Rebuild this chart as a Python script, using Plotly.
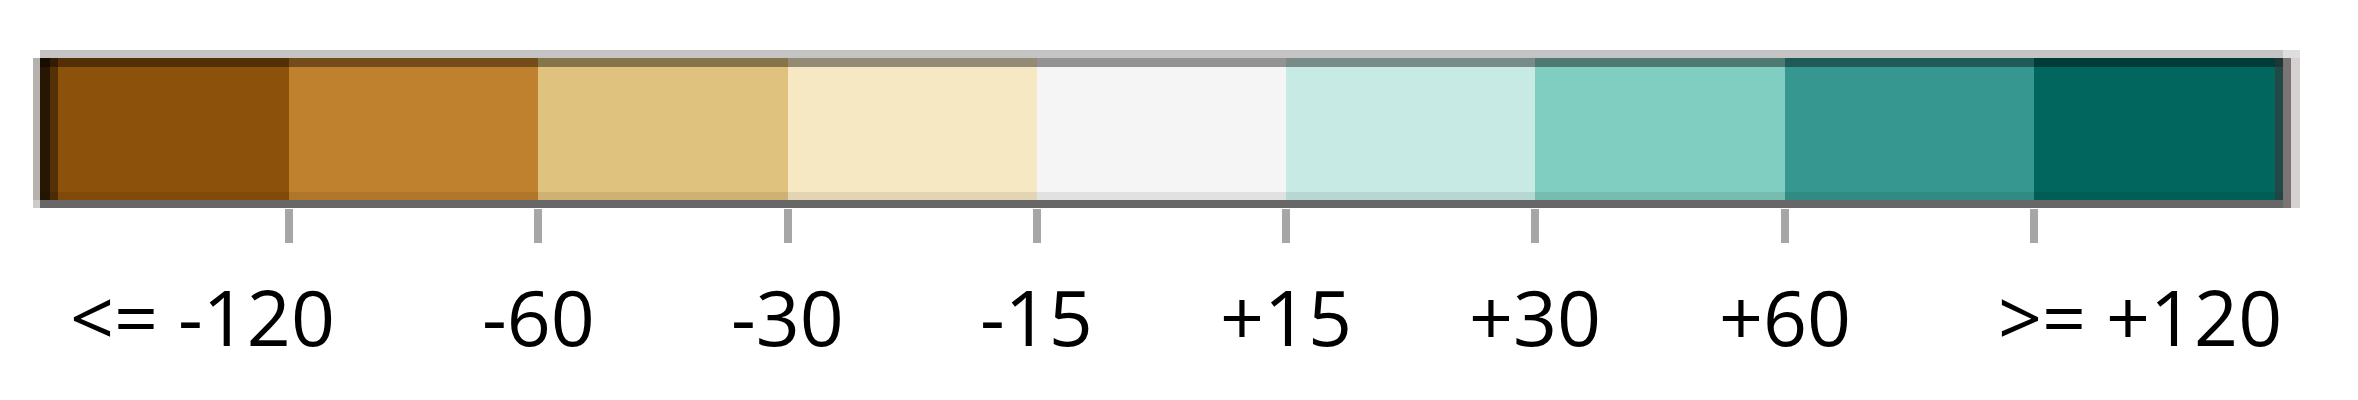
import plotly.graph_objects as go

# ---- data ----
class_colors = ["#8c510a", "#bf812d", "#dfc27d", "#f6e8c3", "#f5f5f5",
                "#c7eae5", "#80cdc1", "#35978f", "#01665e"]
class_widths = [1, 1, 1, 1, 1, 1, 1, 1, 1]
break_labels = ["<= -120", "-60", "-30", "-15", "+15", "+30", "+60", ">= +120"]

# class edges derived from widths
edges = [0]
for w in class_widths:
    edges.append(edges[-1] + w)
break_values = edges[1:-1]

# ---- layout geometry (page pixels; the page body has an 8px margin) ----
OFF = 8
FW, FH = 2358 - 2 * OFF, 400 - 2 * OFF
PL, PR, PT, PB = 40, 2283, 50, 208          # plot area in page pixels
L, T = PL - OFF, PT - OFF
R = FW - (PR - OFF)
B = FH - (PB - OFF)
PW = PR - PL
PH = PB - PT


def px_x(px):
    return (px - PL) / PW


def px_y(py):
    return (PB - py) / PH


fig = go.Figure()
fig.add_trace(go.Bar(
    orientation="h",
    y=[0] * len(class_widths),
    x=class_widths,
    base=edges[:-1],
    width=1,
    marker=dict(color=class_colors, line=dict(width=0)),
    hoverinfo="skip",
    showlegend=False,
))


def rect(x0, x1, y0, y1, color):
    return dict(type="rect", xref="paper", yref="paper",
                x0=px_x(x0), x1=px_x(x1), y0=px_y(y1), y1=px_y(y0),
                fillcolor=color, line=dict(width=0), layer="above")


shapes = [
    rect(40, 2283, 50, 58, "#c4c4c4"),
    rect(40, 2283, 58, 67, "rgba(0,0,0,0.40)"),
    rect(40, 2283, 192, 200, "rgba(0,0,0,0.08)"),
    rect(40, 2283, 200, 208, "#676767"),
    rect(33, 40, 58, 200, "#b5b1ad"),
    rect(33, 40, 200, 208, "#cbcbcb"),
    rect(40, 50, 58, 200, "rgba(0,0,0,0.72)"),
    rect(50, 58, 58, 200, "rgba(0,0,0,0.40)"),
    rect(2275, 2283, 58, 200, "rgba(60,50,50,0.55)"),
    rect(2283, 2291, 58, 208, "#7a7574"),
    rect(2291, 2300, 58, 208, "#d5d1d0"),
    rect(2283, 2300, 50, 58, "#dedede"),
]

annotations = []
for i, (v, lab) in enumerate(zip(break_values, break_labels)):
    anchor, shift = "center", 0
    if i == 0:
        anchor, shift = "right", 48
    elif i == len(break_labels) - 1:
        anchor, shift = "left", -38
    annotations.append(dict(
        x=v, xref="x", y=px_y(316), yref="paper",
        text=lab, showarrow=False, xanchor=anchor, yanchor="middle",
        xshift=shift, font=dict(family="Open Sans", size=77, color="#000000"),
    ))

fig.update_layout(
    width=FW, height=FH,
    margin=dict(l=L, r=R, t=T, b=B, pad=0),
    paper_bgcolor="#ffffff", plot_bgcolor="#ffffff",
    bargap=0,
    shapes=shapes,
    annotations=annotations,
    xaxis=dict(range=[edges[0], edges[-1]], tickvals=break_values,
               ticks="outside", ticklen=34, tickwidth=8, tickcolor="#a6a6a6",
               showticklabels=False, showgrid=False, zeroline=False,
               showline=False, fixedrange=True),
    yaxis=dict(range=[-0.5, 0.5], visible=False, fixedrange=True),
)

fig.write_html("out.html")
